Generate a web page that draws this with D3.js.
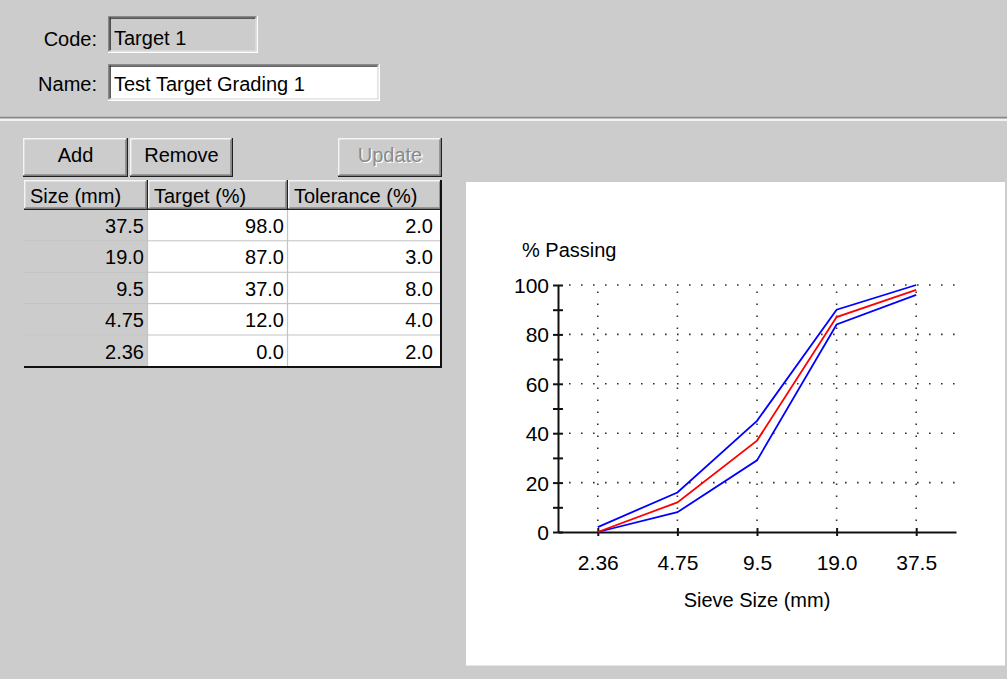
<!DOCTYPE html>
<html>
<head>
<meta charset="utf-8">
<script src="https://cdn.jsdelivr.net/npm/d3@7"></script>
<style>
  html, body { margin: 0; padding: 0; background: #cccccc; }
  svg { display: block; }
  text { font-family: "Liberation Sans", Arial, sans-serif; fill: #000; }
</style>
</head>
<body>
<svg id="main" width="1007" height="679"></svg>
<script>
// ---- data ----
const codeValue = "Target 1";
const nameValue = "Test Target Grading 1";
const columns = ["Size (mm)", "Target (%)", "Tolerance (%)"];
const sizes = ["37.5", "19.0", "9.5", "4.75", "2.36"];
const targets = [98.0, 87.0, 37.0, 12.0, 0.0];
const tolerances = [2.0, 3.0, 8.0, 4.0, 2.0];
const yTicks = [0, 20, 40, 60, 80, 100];
const yMinorTicks = [10, 30, 50, 70, 90];
const buttons = ["Add", "Remove", "Update"];

const svg = d3.select("#main");
const FONT = 20;

// ---- helpers for classic UI look ----
function raised(g, x, y, w, h, fill) {
  g.append("rect").attr("x", x).attr("y", y).attr("width", w).attr("height", h).attr("fill", fill || "#cccccc");
  const l = (x1, y1, x2, y2, c) => g.append("line").attr("x1", x1).attr("y1", y1).attr("x2", x2).attr("y2", y2)
    .attr("stroke", c).attr("stroke-width", 1.4);
  l(x, y + 0.7, x + w, y + 0.7, "#f4f4f4");
  l(x + 0.7, y, x + 0.7, y + h, "#f4f4f4");
  l(x, y + h - 0.7, x + w, y + h - 0.7, "#202020");
  l(x + w - 0.7, y, x + w - 0.7, y + h, "#202020");
  l(x + 1.4, y + h - 2.1, x + w - 1.4, y + h - 2.1, "#888888");
  l(x + w - 2.1, y + 1.4, x + w - 2.1, y + h - 1.4, "#888888");
}
function sunken(g, x, y, w, h, fill) {
  g.append("rect").attr("x", x).attr("y", y).attr("width", w).attr("height", h).attr("fill", fill);
  const l = (x1, y1, x2, y2, c) => g.append("line").attr("x1", x1).attr("y1", y1).attr("x2", x2).attr("y2", y2)
    .attr("stroke", c).attr("stroke-width", 1.4);
  l(x, y + 0.7, x + w, y + 0.7, "#888888");
  l(x + 0.7, y, x + 0.7, y + h, "#888888");
  l(x + 1.4, y + 2.1, x + w - 1.4, y + 2.1, "#303030");
  l(x + 2.1, y + 1.4, x + 2.1, y + h - 1.4, "#303030");
  l(x, y + h - 0.7, x + w, y + h - 0.7, "#ffffff");
  l(x + w - 0.7, y, x + w - 0.7, y + h, "#ffffff");
  l(x + 1.4, y + h - 2.1, x + w - 1.4, y + h - 2.1, "#dcdcdc");
  l(x + w - 2.1, y + 1.4, x + w - 2.1, y + h - 1.4, "#dcdcdc");
}

// ---- top form ----
const form = svg.append("g");
form.append("text").attr("x", 97).attr("y", 46).attr("text-anchor", "end").attr("font-size", FONT).text("Code:");
sunken(form, 108, 16, 150, 37, "#cccccc");
form.append("text").attr("x", 114).attr("y", 45).attr("font-size", FONT).text(codeValue);

form.append("text").attr("x", 97).attr("y", 91).attr("text-anchor", "end").attr("font-size", FONT).text("Name:");
sunken(form, 108, 64, 272, 37, "#ffffff");
form.append("text").attr("x", 114).attr("y", 91).attr("font-size", FONT).text(nameValue);

form.append("line").attr("x1", 0).attr("x2", 1007).attr("y1", 117.5).attr("y2", 117.5).attr("stroke", "#888888").attr("stroke-width", 1.5);
form.append("line").attr("x1", 0).attr("x2", 1007).attr("y1", 120).attr("y2", 120).attr("stroke", "#ffffff").attr("stroke-width", 1.5);

// ---- buttons ----
const btnBoxes = [[23, 105], [130, 103], [338, 104]];
buttons.forEach((b, i) => {
  const [bx, bw] = btnBoxes[i];
  raised(form, bx, 138, bw, 39);
  if (i === 2) {
    form.append("text").attr("x", bx + bw / 2 + 1.3).attr("y", 163.3).attr("text-anchor", "middle")
      .attr("font-size", FONT).style("fill", "#ffffff").text(b);
    form.append("text").attr("x", bx + bw / 2).attr("y", 162).attr("text-anchor", "middle")
      .attr("font-size", FONT).style("fill", "#8a8a8a").text(b);
  } else {
    form.append("text").attr("x", bx + bw / 2).attr("y", 162).attr("text-anchor", "middle")
      .attr("font-size", FONT).text(b);
  }
});

// ---- table ----
const colEdges = [24, 148, 288, 442];
const headTop = 180, headH = 30, rowH = 31.4;
const tbl = svg.append("g");
columns.forEach((c, i) => {
  raised(tbl, colEdges[i], headTop, colEdges[i + 1] - colEdges[i], headH);
  tbl.append("text").attr("x", colEdges[i] + 6).attr("y", headTop + 23).attr("font-size", FONT).text(c);
});
const fmt = d3.format(".1f");
sizes.forEach((s, r) => {
  const top = headTop + headH + r * rowH;
  const vals = [s, fmt(targets[r]), fmt(tolerances[r])];
  vals.forEach((v, i) => {
    tbl.append("rect").attr("x", colEdges[i]).attr("y", top).attr("width", colEdges[i + 1] - colEdges[i]).attr("height", rowH)
      .attr("fill", i === 0 ? "#cccccc" : "#ffffff");
    tbl.append("text").attr("x", colEdges[i + 1] - (i === 2 ? 9 : 4)).attr("y", top + 23)
      .attr("text-anchor", "end").attr("font-size", FONT).text(v);
  });
  // row separator
  tbl.append("line").attr("x1", colEdges[0]).attr("x2", colEdges[3]).attr("y1", top + rowH - 0.5).attr("y2", top + rowH - 0.5)
    .attr("stroke", "#c4c4c4").attr("stroke-width", 1.2);
});
const tblBottom = headTop + headH + sizes.length * rowH;
[1, 2].forEach(i => {
  tbl.append("line").attr("x1", colEdges[i] - 0.5).attr("x2", colEdges[i] - 0.5).attr("y1", headTop + headH).attr("y2", tblBottom)
    .attr("stroke", "#c4c4c4").attr("stroke-width", 1.2);
});
tbl.append("line").attr("x1", colEdges[0]).attr("x2", colEdges[3]).attr("y1", tblBottom).attr("y2", tblBottom)
  .attr("stroke", "#111").attr("stroke-width", 2);
tbl.append("line").attr("x1", colEdges[3] - 1).attr("x2", colEdges[3] - 1).attr("y1", headTop).attr("y2", tblBottom)
  .attr("stroke", "#111").attr("stroke-width", 2);

// ---- chart panel ----
svg.append("rect").attr("x", 466).attr("y", 182).attr("width", 539).attr("height", 483).attr("fill", "#ffffff");
svg.append("line").attr("x1", 466).attr("x2", 1005).attr("y1", 665.5).attr("y2", 665.5).attr("stroke", "#e6e6e6");

const chartRows = sizes.map((s, i) => ({
  size: s,
  target: targets[i],
  upper: Math.min(100, targets[i] + tolerances[i]),
  lower: Math.max(0, targets[i] - tolerances[i])
})).reverse();

const x = d3.scalePoint().domain(chartRows.map(d => d.size)).range([558, 956]).padding(0.5);
const y = d3.scaleLinear().domain([0, 100]).range([532, 285]);

const chart = svg.append("g");

// grid
const gridH = yTicks.filter(v => v > 0);
chart.selectAll(".gh").data(gridH).enter().append("line")
  .attr("x1", x.range()[0] + 11).attr("x2", x.range()[1])
  .attr("y1", d => y(d)).attr("y2", d => y(d))
  .attr("stroke", "#333").attr("stroke-width", 1.6).attr("stroke-dasharray", "1.6,10.4");
chart.selectAll(".gv").data(x.domain()).enter().append("line")
  .attr("x1", d => x(d)).attr("x2", d => x(d))
  .attr("y1", y(0) - 11).attr("y2", y(100))
  .attr("stroke", "#333").attr("stroke-width", 1.6).attr("stroke-dasharray", "1.6,10.4");

// axes
const yAxis = chart.append("g").attr("transform", `translate(${x.range()[0]},0)`)
  .call(d3.axisLeft(y).tickValues(yTicks).tickSize(5).tickSizeOuter(0).tickPadding(4));
const yMinor = chart.append("g").attr("transform", `translate(${x.range()[0]},0)`)
  .call(d3.axisLeft(y).tickValues(yMinorTicks).tickSize(5).tickSizeOuter(0).tickFormat(""));
yMinor.select(".domain").remove();
[yAxis, yMinor].forEach(g => {
  g.selectAll(".tick line").attr("x1", 5).attr("stroke", "#111").attr("stroke-width", 2);
});
yAxis.select(".domain").attr("stroke", "#111").attr("stroke-width", 2);
yAxis.selectAll(".tick text").attr("font-size", 21).attr("font-family", "Liberation Sans, Arial, sans-serif").attr("dy", "0.36em");

const xAxis = chart.append("g").attr("transform", `translate(0,${y(0)})`)
  .call(d3.axisBottom(x).tickSize(4).tickSizeOuter(0).tickPadding(19));
xAxis.selectAll(".tick line").attr("y1", -4).attr("stroke", "#111").attr("stroke-width", 2);
xAxis.select(".domain").attr("stroke", "#111").attr("stroke-width", 2);
xAxis.selectAll(".tick text").attr("font-size", 21).attr("font-family", "Liberation Sans, Arial, sans-serif");

// axis titles
chart.append("text").attr("x", 522).attr("y", 257).attr("font-size", 20).text("% Passing");
chart.append("text").attr("x", (x.range()[0] + x.range()[1]) / 2).attr("y", 607).attr("text-anchor", "middle")
  .attr("font-size", 20).text("Sieve Size (mm)");

// lines
const mk = key => d3.line().x(d => x(d.size)).y(d => y(d[key]));
chart.append("path").datum(chartRows).attr("d", mk("upper")).attr("fill", "none").attr("stroke", "#0000ff").attr("stroke-width", 1.8);
chart.append("path").datum(chartRows).attr("d", mk("lower")).attr("fill", "none").attr("stroke", "#0000ff").attr("stroke-width", 1.8);
chart.append("path").datum(chartRows).attr("d", mk("target")).attr("fill", "none").attr("stroke", "#ff0000").attr("stroke-width", 1.8);
</script>
</body>
</html>
